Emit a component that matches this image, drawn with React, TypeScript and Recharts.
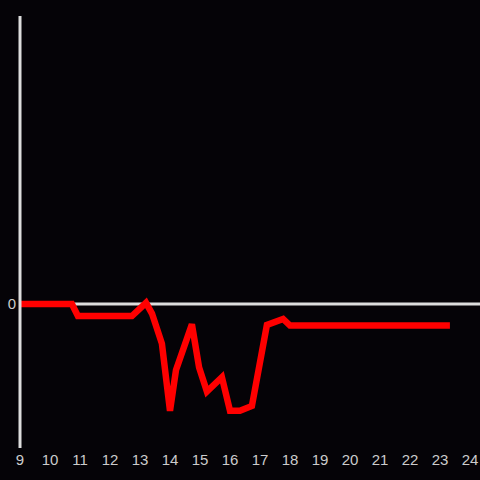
import { Line, LineChart, ReferenceLine, XAxis, YAxis } from 'recharts'

// hours of the day and readings (arbitrary units, 0 = baseline)
const hours = [9, 10.73, 10.93, 12.73, 13.2, 13.4, 13.73, 14.0, 14.2, 14.73, 14.97, 15.23, 15.73, 16.0, 16.33, 16.73, 17.23, 17.77, 18.0, 23.33]
const values = [0, 0, -1, -1, 0.1, -0.8, -3.3, -8.9, -5.5, -1.7, -5.3, -7.3, -6.1, -8.9, -8.9, -8.5, -1.75, -1.25, -1.8, -1.8]
const xTicks = [9, 10, 11, 12, 13, 14, 15, 16, 17, 18, 19, 20, 21, 22, 23, 24]
const yTicks = [0]

const data = hours.map((h, i) => ({ h, v: values[i] }))

const BG = '#050307'
const AXIS = '#dddddd'
const LABEL = '#cccccc'

export default function App() {
  return (
    <div style={{ position: 'absolute', left: 0, top: 0, width: 480, height: 480, background: BG, fontFamily: '"Liberation Sans", Arial, sans-serif' }}>
      <LineChart width={480} height={480} data={data} margin={{ top: 16, right: 0, left: 0, bottom: 0 }}>
        <XAxis dataKey="h" type="number" domain={[9, 24.333]} ticks={xTicks} allowDataOverflow interval={0}
          axisLine={false} tickLine={false} height={32} tick={{ fill: LABEL, fontSize: 15 }} tickMargin={0} />
        <YAxis type="number" domain={[-12, 24]} ticks={yTicks} width={20} allowDataOverflow
          axisLine={{ stroke: AXIS, strokeWidth: 3 }} tickLine={false} tickSize={0} tickMargin={4}
          tick={{ fill: LABEL, fontSize: 15 }} />
        <ReferenceLine y={0} stroke={AXIS} strokeWidth={3} />
        <Line type="linear" dataKey="v" stroke="#ff0000" strokeWidth={6.5} dot={false} isAnimationActive={false} />
      </LineChart>
    </div>
  )
}
